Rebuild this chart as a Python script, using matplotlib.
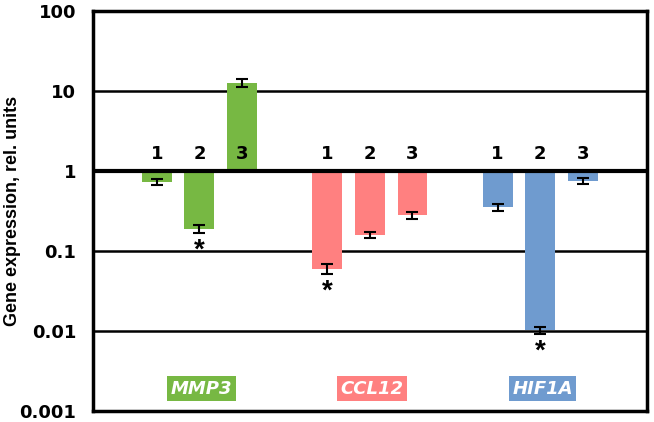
import numpy as np
import matplotlib.pyplot as plt

plt.rcParams['font.family'] = ['DejaVu Sans']
plt.rcParams['font.weight'] = 'bold'

genes = ['MMP3', 'CCL12', 'HIF1A']
colores = ['#77B843', '#FF8080', '#6F9BCF']
muestras = ['1', '2', '3']
valores = [[0.73, 0.19, 12.6],
           [0.06, 0.16, 0.28],
           [0.355, 0.0102, 0.75]]
errores = [[0.07, 0.02, 1.5],
           [0.008, 0.015, 0.03],
           [0.035, 0.001, 0.07]]
asteriscos = [[False, True, False],
              [True, False, False],
              [False, True, False]]

fig = plt.figure(figsize=(6.54, 4.22), dpi=100)
ax = fig.add_axes([0.142, 0.026, 0.847, 0.948])
ax.set_yscale('log')
ax.set_ylim(0.001, 100)
ax.set_xlim(-1.5, 11.5)

for y in [0.01, 0.1, 10]:
    ax.axhline(y, color='black', lw=1.8, zorder=1)

for g in range(3):
    pos = np.arange(3) + 4 * g
    alturas = [v - 1 for v in valores[g]]
    ax.bar(pos, alturas, bottom=1, width=0.7, color=colores[g], zorder=2)
    ax.errorbar(pos, valores[g], yerr=errores[g], fmt='none', ecolor='black',
                elinewidth=1.5, capsize=4, capthick=1.5, zorder=3)
    for i in range(3):
        ax.text(pos[i], 1.63, muestras[i], ha='center', va='center', fontsize=13)
        if asteriscos[g][i]:
            ax.text(pos[i], (valores[g][i] - errores[g][i]) * 0.6, '*', ha='center',
                    va='center', fontsize=20, family='Liberation Sans')
    ax.text(pos[1] + 0.05, 0.0019, genes[g], ha='center', va='center', fontsize=13,
            style='italic', color='white',
            bbox=dict(boxstyle='square,pad=0.2', fc=colores[g], ec='none'))

ax.axhline(1, color='black', lw=3, zorder=4)

for s in ax.spines.values():
    s.set_linewidth(2.5)
ax.set_xticks([])
ax.yaxis.set_major_locator(plt.FixedLocator([0.001, 0.01, 0.1, 1, 10, 100]))
ax.yaxis.set_minor_locator(plt.NullLocator())
ax.set_yticklabels(['0.001', '0.01', '0.1', '1', '10', '100'])
ax.tick_params(axis='y', length=0, pad=12, labelsize=13)
ax.set_ylabel('Gene expression, rel. units', fontsize=13, fontweight='bold',
              family='Liberation Sans')
ax.yaxis.set_label_coords(-0.13, 0.5)

fig.savefig('out.png', dpi=100)
